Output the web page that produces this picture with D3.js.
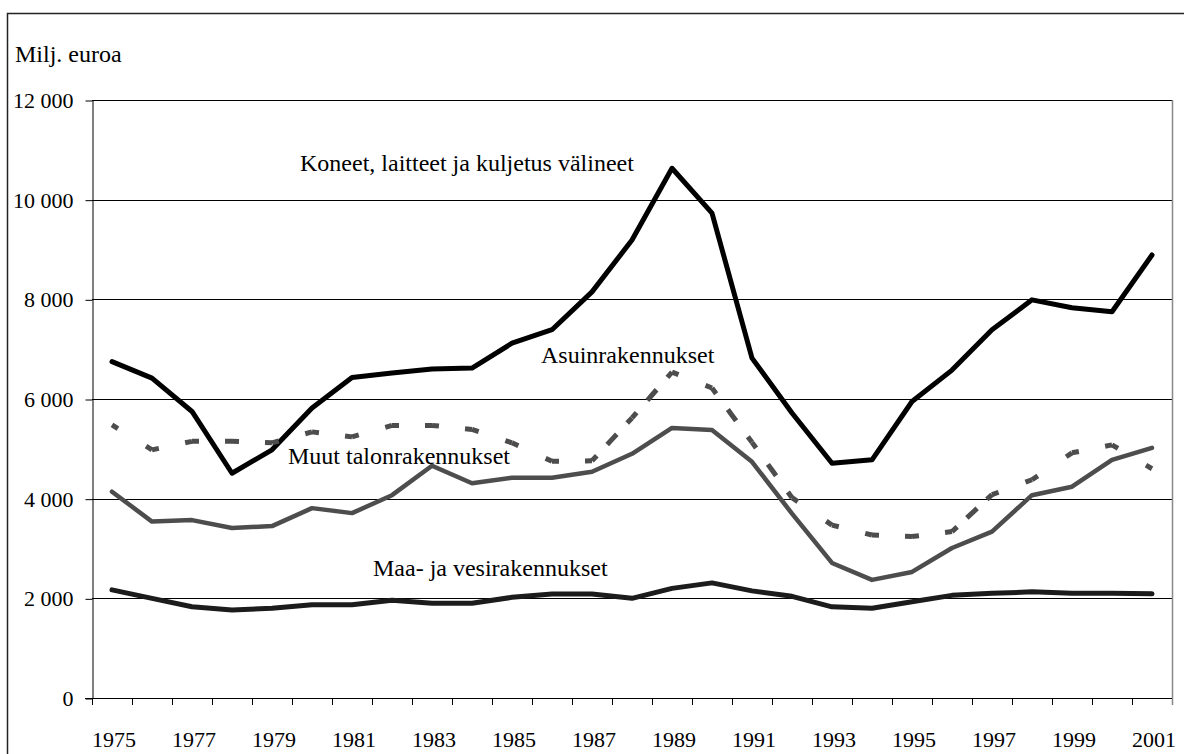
<!DOCTYPE html>
<html>
<head>
<meta charset="utf-8">
<script src="https://cdn.jsdelivr.net/npm/d3@7"></script>
<style>
    body { margin: 0; background: #fff; }
</style>
</head>
<body>
<div class="chart"></div>
<script>
// years on the x axis
var years = d3.range(1975, 2002);
var yTicks = [0, 2000, 4000, 6000, 8000, 10000, 12000];

// Milj. euroa
var koneet = [6750, 6420, 5750, 4510, 4980, 5820, 6430, 6520, 6600, 6620, 7120, 7390, 8150, 9190,
    10630, 9730, 6820, 5720, 4710, 4780, 5950, 6580, 7390, 7990, 7830, 7750, 8890];
var asuin = [5480, 4980, 5150, 5150, 5120, 5340, 5240, 5470, 5470, 5390, 5120, 4750, 4760, 5620,
    6540, 6220, 5130, 4020, 3470, 3270, 3240, 3340, 4080, 4380, 4920, 5080, 4600];
var muut = [4140, 3540, 3570, 3410, 3450, 3810, 3710, 4070, 4660, 4310, 4420, 4420, 4540, 4900,
    5420, 5380, 4740, 3700, 2710, 2370, 2530, 3010, 3340, 4070, 4240, 4780, 5020];
var maa = [2170, 2000, 1830, 1765, 1800, 1870, 1870, 1960, 1900, 1900, 2020, 2085, 2085, 2000,
    2200, 2310, 2150, 2040, 1830, 1800, 1930, 2060, 2100, 2130, 2100, 2100, 2090];

var width = 1184,
    height = 754;
var serif = "'Liberation Serif', Tinos, 'Times New Roman', Times, 'Nimbus Roman', 'Nimbus Roman No9 L', 'FreeSerif', 'Noto Serif', 'DejaVu Serif', serif";

var svg = d3.select(".chart").append("svg")
    .attr("width", width)
    .attr("height", height)
    .style("font-family", serif);

// outer frame
svg.append("rect")
    .attr("x", 7.5)
    .attr("y", 13.5)
    .attr("width", 1200)
    .attr("height", 800)
    .attr("fill", "none")
    .attr("stroke", "#222")
    .attr("stroke-width", 1.5);

var x = d3.scaleBand()
    .domain(years)
    .range([92, 1172]);

var y = d3.scaleLinear()
    .domain([0, 12000])
    .range([698, 100]);

var locale = d3.formatLocale({decimal: ",", thousands: " ", grouping: [3], currency: ["", " €"]});
var fmt = locale.format(",d");

// gridlines
svg.append("g")
    .selectAll("line")
    .data(yTicks.filter(function(d) { return d > 0; }))
    .enter().append("line")
    .attr("x1", x.range()[0])
    .attr("x2", x.range()[1])
    .attr("y1", function(d) { return Math.round(y(d)) + 0.5; })
    .attr("y2", function(d) { return Math.round(y(d)) + 0.5; })
    .attr("stroke", "#000")
    .attr("stroke-width", 1);

// right border of the plot
svg.append("line")
    .attr("x1", x.range()[1] + 0.5)
    .attr("x2", x.range()[1] + 0.5)
    .attr("y1", y(12000))
    .attr("y2", y(0) + 7)
    .attr("stroke", "#888")
    .attr("stroke-width", 1.5);

// y axis
var yAxis = svg.append("g")
    .attr("transform", "translate(" + (x.range()[0] + 0.5) + ",0.5)")
    .call(d3.axisLeft(y).tickValues(yTicks).tickFormat(fmt).tickSize(7).tickPadding(12).tickSizeOuter(0));
yAxis.attr("font-family", null).attr("font-size", null);
yAxis.selectAll("text").style("font-size", "22px").style("font-family", serif).attr("fill", "#000");
yAxis.select(".domain").attr("stroke", "#000");

// x axis: ticks between the years, labels every other year
var xg = svg.append("g");
xg.append("line")
    .attr("x1", 85)
    .attr("x2", x.range()[1])
    .attr("y1", y(0) + 0.5)
    .attr("y2", y(0) + 0.5)
    .attr("stroke", "#000");
xg.selectAll(".tick")
    .data(years.concat([2002]))
    .enter().append("line")
    .attr("class", "tick")
    .attr("x1", function(d) { return (d === 2002 ? x.range()[1] : x(d)) + 0.5; })
    .attr("x2", function(d) { return (d === 2002 ? x.range()[1] : x(d)) + 0.5; })
    .attr("y1", y(0))
    .attr("y2", y(0) + 7)
    .attr("stroke", function(d) { return d === 2002 ? "#888" : "#000"; });
xg.selectAll("text")
    .data(years.filter(function(d) { return d % 2 === 1; }))
    .enter().append("text")
    .attr("x", function(d) { return x(d) + x.bandwidth() / 2 + 2; })
    .attr("y", 747)
    .attr("text-anchor", "middle")
    .style("font-size", "22px")
    .style("font-family", serif)
    .text(function(d) { return d; });

// unit label
svg.append("text")
    .attr("x", 15)
    .attr("y", 62)
    .style("font-size", "24px")
    .style("font-family", serif)
    .text("Milj. euroa");

var line = d3.line()
    .x(function(d, i) { return x(years[i]) + x.bandwidth() / 2; })
    .y(function(d) { return y(d); });

var series = [
    {name: "Maa- ja vesirakennukset", values: maa, color: "#1c1c1c", w: 5},
    {name: "Muut talonrakennukset", values: muut, color: "#4d4d4d", w: 4.5},
    {name: "Koneet, laitteet ja kuljetusvälineet", values: koneet, color: "#000", w: 5}
];

svg.selectAll(".serie")
    .data(series)
    .enter().append("path")
    .attr("class", "serie")
    .attr("d", function(d) { return line(d.values); })
    .attr("fill", "none")
    .attr("stroke", function(d) { return d.color; })
    .attr("stroke-width", function(d) { return d.w; })
    .attr("stroke-linejoin", "round")
    .attr("stroke-linecap", "round");

// Asuinrakennukset: dashed, the dash pattern restarts at every point
var segs = d3.pairs(asuin.map(function(v, i) {
    return [x(years[i]) + x.bandwidth() / 2, y(v)];
}));
svg.append("g")
    .selectAll("path")
    .data(segs)
    .enter().append("path")
    .attr("d", function(d) { return "M" + d[0] + "L" + d[1]; })
    .attr("fill", "none")
    .attr("stroke", "#4d4d4d")
    .attr("stroke-width", 5)
    .attr("stroke-dasharray", function(d) {
        var L = Math.hypot(d[1][0] - d[0][0], d[1][1] - d[0][1]);
        var k = Math.max(1, Math.round(L / 34));
        var p = L / k;
        return [7, p - 14, 7, 0].join(",");
    });

// series labels
var labels = [
    {text: "Koneet, laitteet ja kuljetus välineet", x: 300, y: 171},
    {text: "Asuinrakennukset", x: 541, y: 363},
    {text: "Muut talonrakennukset", x: 288, y: 464},
    {text: "Maa- ja vesirakennukset", x: 373, y: 576}
];
svg.selectAll(".lab")
    .data(labels)
    .enter().append("text")
    .attr("class", "lab")
    .attr("x", function(d) { return d.x; })
    .attr("y", function(d) { return d.y; })
    .style("font-size", "24px")
    .style("font-family", serif)
    .text(function(d) { return d.text; });
</script>
</body>
</html>
